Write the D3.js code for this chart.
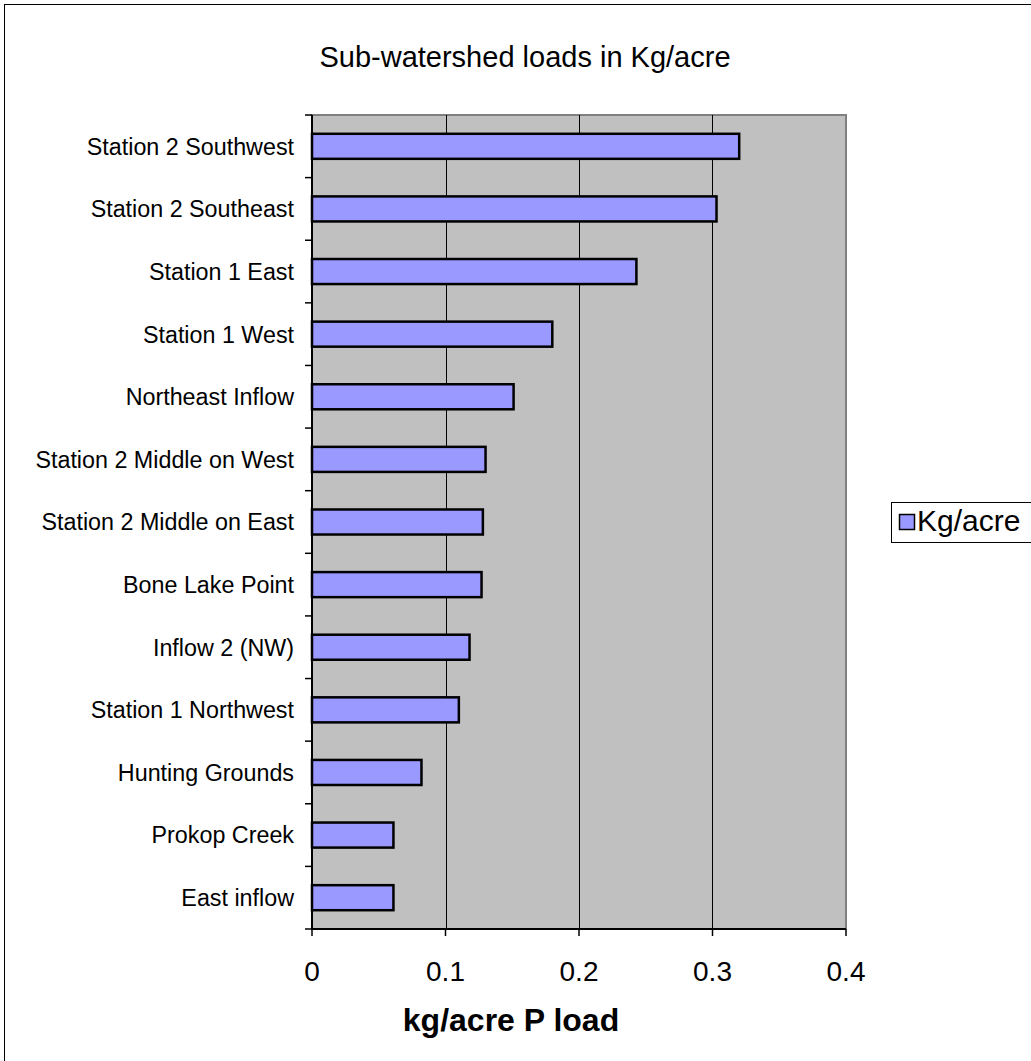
<!DOCTYPE html>
<html>
<head>
<meta charset="utf-8">
<title>Sub-watershed loads</title>
<script src="https://cdn.jsdelivr.net/npm/d3@7"></script>
<style>
body { margin: 0; background: #fff; }
text { font-family: "Liberation Sans", Arial, sans-serif; fill: #000; }
</style>
</head>
<body>
<div id="chart"></div>
<script>
// data, top to bottom
var categories = ["Station 2 Southwest", "Station 2 Southeast", "Station 1 East", "Station 1 West",
  "Northeast Inflow", "Station 2 Middle on West", "Station 2 Middle on East", "Bone Lake Point",
  "Inflow 2 (NW)", "Station 1 Northwest", "Hunting Grounds", "Prokop Creek", "East inflow"];
var loads = [0.320, 0.303, 0.243, 0.180, 0.151, 0.130, 0.128, 0.127, 0.118, 0.110, 0.082, 0.061, 0.061];
var xTicks = [0, 0.1, 0.2, 0.3, 0.4];
var seriesName = "Kg/acre";

var width = 1031, height = 1061;
var plot = {left: 312, top: 115, right: 846, bottom: 929};

var svg = d3.select("#chart").append("svg")
    .attr("width", width)
    .attr("height", height);

// outer chart border
svg.append("rect")
    .attr("x", 4.5).attr("y", 4.5)
    .attr("width", width).attr("height", height)
    .attr("fill", "#fff").attr("stroke", "#000");

var x = d3.scaleLinear().domain([0, 0.4]).range([plot.left, plot.right]);
var y = d3.scaleBand().domain(categories).range([plot.top, plot.bottom])
    .paddingInner(0.6).paddingOuter(0.3);
var step = y.step();

// plot area
svg.append("rect")
    .attr("x", plot.left).attr("y", plot.top)
    .attr("width", plot.right - plot.left).attr("height", plot.bottom - plot.top)
    .attr("fill", "#c0c0c0").attr("stroke", "#808080").attr("stroke-width", 2);

// gridlines
svg.append("g").selectAll("line")
    .data(xTicks.slice(1, -1))
    .enter().append("line")
    .attr("x1", function(d) { return Math.round(x(d)) + 0.5; })
    .attr("x2", function(d) { return Math.round(x(d)) + 0.5; })
    .attr("y1", plot.top).attr("y2", plot.bottom)
    .attr("stroke", "#000").attr("stroke-width", 1);

// bars
svg.append("g").selectAll("rect")
    .data(categories)
    .enter().append("rect")
    .attr("x", x(0))
    .attr("y", function(d) { return y(d); })
    .attr("width", function(d, i) { return x(loads[i]) - x(0); })
    .attr("height", y.bandwidth())
    .attr("fill", "#9999ff")
    .attr("stroke", "#000")
    .attr("stroke-width", 2.5);

// y axis
var yAxis = svg.append("g");
yAxis.append("line")
    .attr("x1", plot.left).attr("x2", plot.left)
    .attr("y1", plot.top).attr("y2", plot.bottom)
    .attr("stroke", "#000").attr("stroke-width", 2);
yAxis.selectAll(".tick")
    .data(d3.range(categories.length + 1))
    .enter().append("line")
    .attr("x1", plot.left - 7).attr("x2", plot.left)
    .attr("y1", function(i) { return plot.top + i * step; })
    .attr("y2", function(i) { return plot.top + i * step; })
    .attr("stroke", "#000").attr("stroke-width", 1.5);
yAxis.selectAll("text")
    .data(categories)
    .enter().append("text")
    .attr("x", 294)
    .attr("y", function(d) { return y(d) + y.bandwidth() / 2; })
    .attr("dy", "0.36em")
    .attr("text-anchor", "end")
    .style("font-size", "23.3px")
    .text(function(d) { return d; });

// x axis
var xAxis = svg.append("g");
xAxis.append("line")
    .attr("x1", plot.left).attr("x2", plot.right)
    .attr("y1", plot.bottom).attr("y2", plot.bottom)
    .attr("stroke", "#000").attr("stroke-width", 2);
xAxis.selectAll(".tick")
    .data(xTicks)
    .enter().append("line")
    .attr("x1", function(d) { return x(d); })
    .attr("x2", function(d) { return x(d); })
    .attr("y1", plot.bottom).attr("y2", plot.bottom + 7)
    .attr("stroke", "#000").attr("stroke-width", 1.5);
xAxis.selectAll("text")
    .data(xTicks)
    .enter().append("text")
    .attr("x", function(d) { return x(d); })
    .attr("y", 981)
    .attr("text-anchor", "middle")
    .style("font-size", "28px")
    .text(function(d) { return d; });

svg.append("text")
    .attr("x", 511).attr("y", 1031)
    .attr("text-anchor", "middle")
    .style("font-size", "32px").style("font-weight", "bold")
    .text("kg/acre P load");

// title
svg.append("text")
    .attr("x", 525).attr("y", 67)
    .attr("text-anchor", "middle")
    .style("font-size", "29px")
    .text("Sub-watershed loads in Kg/acre");

// legend
var legend = svg.append("g");
legend.append("rect")
    .attr("x", 891.5).attr("y", 502.5)
    .attr("width", 145).attr("height", 40)
    .attr("fill", "#fff").attr("stroke", "#000");
legend.append("rect")
    .attr("x", 899.5).attr("y", 514.5)
    .attr("width", 15).attr("height", 15)
    .attr("fill", "#9999ff").attr("stroke", "#000").attr("stroke-width", 1.5);
legend.append("text")
    .attr("x", 917).attr("y", 531)
    .style("font-size", "30px")
    .text(seriesName);
</script>
</body>
</html>
